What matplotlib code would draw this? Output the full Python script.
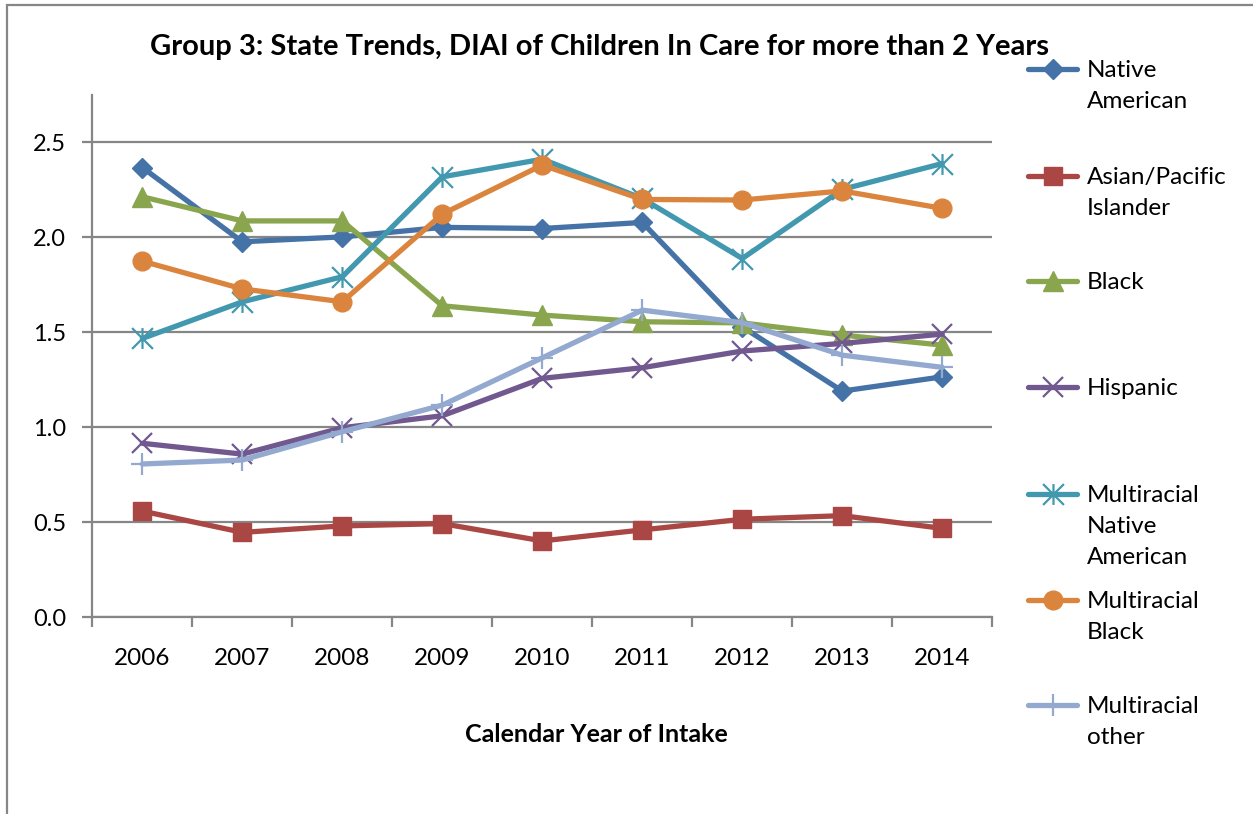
import numpy as np
import matplotlib.pyplot as plt
from matplotlib.lines import Line2D
from matplotlib.patches import Rectangle
from matplotlib.path import Path

plt.rcParams['font.family'] = ['Lato', 'DejaVu Sans']

years = ['2006', '2007', '2008', '2009', '2010', '2011', '2012', '2013', '2014']

native_american = [2.368, 1.977, 2.003, 2.053, 2.047, 2.079, 1.529, 1.191, 1.266]
asian_pacific = [0.559, 0.447, 0.481, 0.493, 0.402, 0.460, 0.516, 0.535, 0.468]
black = [2.214, 2.087, 2.087, 1.640, 1.591, 1.556, 1.550, 1.486, 1.433]
hispanic = [0.916, 0.859, 0.998, 1.061, 1.258, 1.314, 1.402, 1.442, 1.491]
multi_native = [1.468, 1.661, 1.793, 2.319, 2.412, 2.205, 1.889, 2.253, 2.389]
multi_black = [1.875, 1.729, 1.661, 2.123, 2.381, 2.200, 2.197, 2.245, 2.153]
multi_other = [0.807, 0.828, 0.977, 1.117, 1.366, 1.617, 1.551, 1.380, 1.316]

series_names = ['Native\nAmerican', 'Asian/Pacific\nIslander', 'Black', 'Hispanic',
                'Multiracial\nNative\nAmerican', 'Multiracial\nBlack', 'Multiracial\nother']

# asterisk marker like the office chart one: X plus vertical bar
asterisk = Path([(-0.5, -0.5), (0.5, 0.5), (-0.5, 0.5), (0.5, -0.5), (0, -0.5), (0, 0.5)],
                [Path.MOVETO, Path.LINETO, Path.MOVETO, Path.LINETO, Path.MOVETO, Path.LINETO])

styles = [
    dict(color='#4572A7', marker='D', ms=10),
    dict(color='#AA4643', marker='s', ms=13),
    dict(color='#89A54E', marker='^', ms=14),
    dict(color='#71588F', marker='x', ms=15, mew=1.6),
    dict(color='#4198AF', marker=asterisk, ms=15, mew=1.6),
    dict(color='#DB843D', marker='o', ms=13.5),
    dict(color='#93A9CF', marker='+', ms=16, mew=1.6),
]
all_series = [native_american, asian_pacific, black, hispanic, multi_native, multi_black, multi_other]

W, H = 1253, 814
fig = plt.figure(figsize=(W / 100, H / 100), dpi=100)
ax = fig.add_axes([0.0737, 0.2417, 0.7182, 0.6416])

x = np.arange(len(years))
for vals, st in zip(all_series, styles):
    ax.plot(x, vals, lw=3.8, solid_capstyle='round', solid_joinstyle='round', **st)

grid_c = '#868686'
ax.set_xlim(-0.5, len(years) - 0.5)
ax.set_ylim(0, 2.75)
yt = np.arange(0, 2.51, 0.5)
ax.set_yticks(yt)
ax.set_yticklabels([f'{v:.1f}' for v in yt], fontsize=17)
ax.yaxis.grid(True, color=grid_c, lw=1.6)
ax.set_axisbelow(True)

ax.set_xticks(np.arange(-0.5, len(years), 1.0))
ax.set_xticklabels([])
ax.set_xticks(x, minor=True)
ax.set_xticklabels(years, minor=True, fontsize=17.5)
ax.tick_params(axis='x', which='minor', length=0, pad=22)
ax.tick_params(axis='x', which='major', length=7, width=1.6, color=grid_c, direction='out')
ax.tick_params(axis='y', length=7, width=1.6, color=grid_c, pad=12)

for side in ['top', 'right']:
    ax.spines[side].set_visible(False)
for side in ['left', 'bottom']:
    ax.spines[side].set_color(grid_c)
    ax.spines[side].set_linewidth(1.6)

fig.text(596 / W, 1 - 735 / H, 'Calendar Year of Intake', ha='center', va='center',
         fontsize=18, fontweight='bold')
fig.text(599 / W, 1 - 47 / H, 'Group 3: State Trends, DIAI of Children In Care for more than 2 Years',
         ha='center', va='center', fontsize=21, fontweight='bold')

# legend on the right, marker aligned with the first text line
legend_tops = [69, 176, 281, 387, 494, 600, 705]
for name, st, ypix in zip(series_names, styles, legend_tops):
    yf = 1 - ypix / H
    fig.add_artist(Line2D([1028 / W, 1077 / W], [yf, yf], lw=3.8, solid_capstyle='round',
                          transform=fig.transFigure, color=st['color']))
    fig.add_artist(Line2D([1052.5 / W], [yf], transform=fig.transFigure, ls='none', **st))
    fig.text(1087 / W, yf + 9 / H, name, ha='left', va='top', fontsize=17.5, linespacing=1.6)

# outer chart frame
fig.add_artist(Rectangle((7 / W, -0.1), 1.2, 1 - 5 / H + 0.1, transform=fig.transFigure,
                         fill=False, edgecolor=grid_c, lw=1.6))

fig.savefig('out.png', dpi=100)
